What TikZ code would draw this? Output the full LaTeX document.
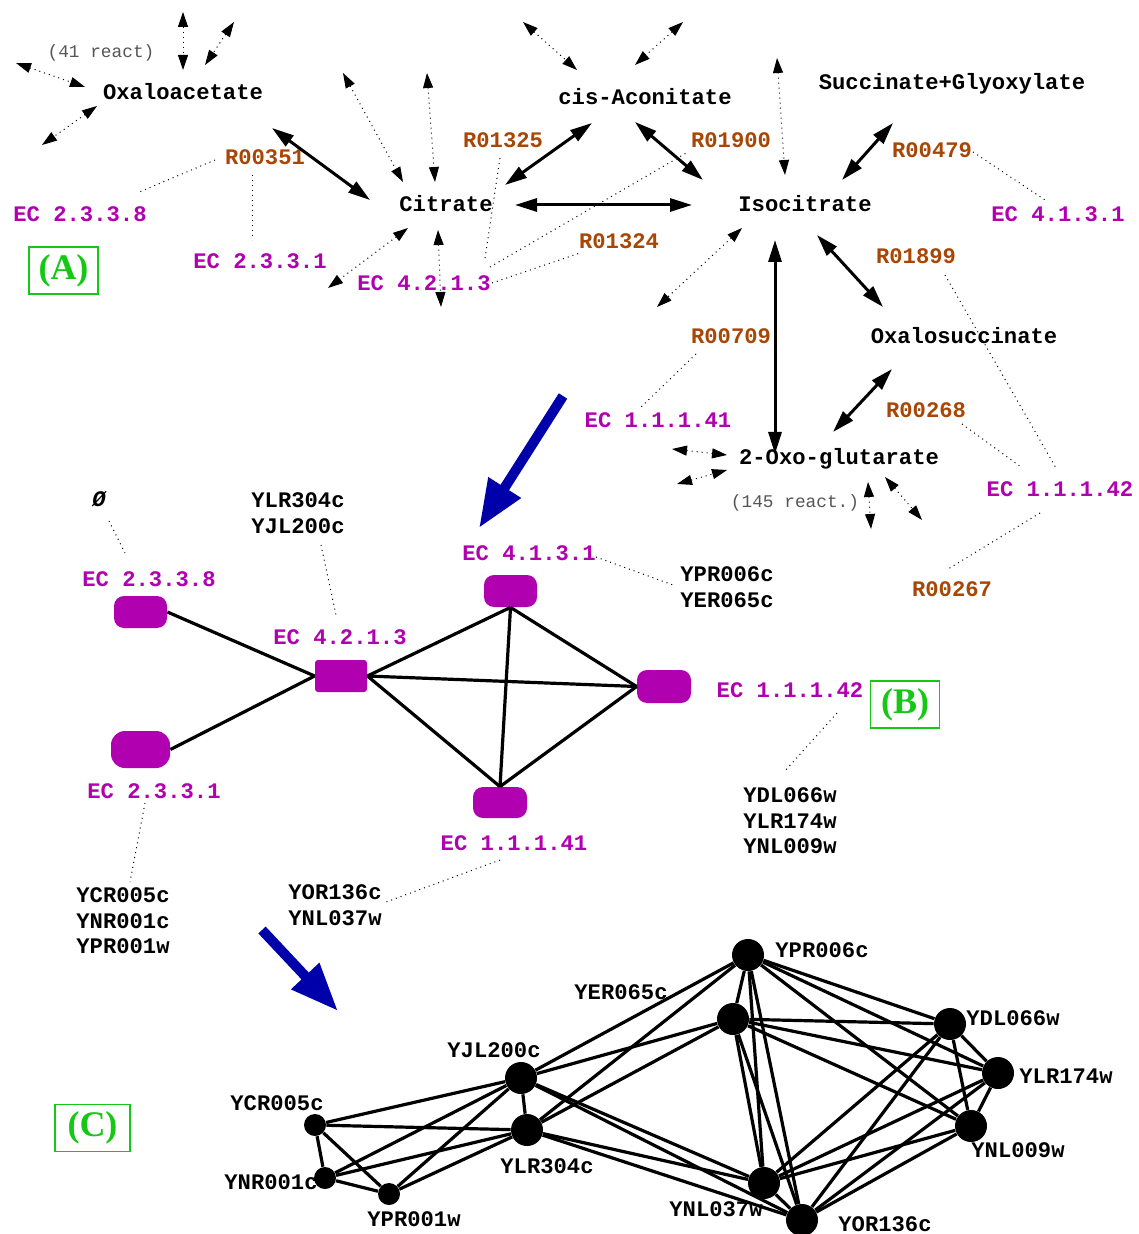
\documentclass[tikz,border=0pt]{standalone}
\usepackage{fontspec}
\setmainfont{Liberation Serif}
\setmonofont{Liberation Mono}
\usetikzlibrary{arrows.meta}
\definecolor{ecmag}{RGB}{176,0,176}
\definecolor{rxbrown}{RGB}{168,70,5}
\definecolor{panelgreen}{RGB}{20,200,20}
\definecolor{flowblue}{RGB}{0,0,170}
\definecolor{notegray}{RGB}{85,85,85}
\tikzset{
  lab/.style={font=\ttfamily\bfseries\fontsize{11.1}{12.8}\selectfont, inner sep=1.5pt},
  one/.style={lab, text height=7.4pt, text depth=0pt},
  met/.style={one},
  rx/.style={one, text=rxbrown},
  ec/.style={one, text=ecmag},
  gene/.style={one},
  genes/.style={lab, align=center},
  note/.style={font=\ttfamily\fontsize{8.9}{10}\selectfont, text=notegray,
    text height=6pt, text depth=0pt, inner sep=1pt},
  panel/.style={draw=panelgreen, text=panelgreen, line width=0.6pt,
    font=\bfseries\fontsize{18}{18}\selectfont, minimum width=34.5pt,
    minimum height=23.5pt, inner sep=0pt},
  enz/.style={fill=ecmag, inner sep=0pt, rounded corners=5pt,
    minimum width=26.5pt, minimum height=16pt},
  gdot/.style={circle, fill=black, inner sep=0pt, minimum size=16pt},
  gsmall/.style={gdot, minimum size=11pt},
  rxarr/.style={line width=1.5pt,
    arrows={Triangle[length=11pt,width=6.5pt]-Triangle[length=11pt,width=6.5pt]}},
  sidearr/.style={dotted, line width=0.5pt,
    arrows={Triangle[length=7.5pt,width=5pt]-Triangle[length=7.5pt,width=5pt]}},
  dotlink/.style={dotted, line width=0.5pt},
  tie/.style={line width=1.6pt},
  flowarr/.style={draw=flowblue, line width=5pt,
    arrows={-Triangle[length=24pt,width=18pt]}},
}
\begin{document}
\begin{tikzpicture}[x=0.5pt,y=-0.5pt]
\useasboundingbox (0,0) rectangle (1138,1234);

% (A) pathway
\node[note] (react41) at (101,52) {(41 react)};
\node[met] (oxal) at (183,92) {Oxaloacetate};
\node[met] (cisa) at (645,97) {cis-Aconitate};
\node[met] (succ) at (952,82) {Succinate+Glyoxylate};
\node[rx] (r00351) at (265,157) {R00351};
\node[rx] (r01325) at (503,140) {R01325};
\node[rx] (r01900) at (731,140) {R01900};
\node[rx] (r00479) at (932,150) {R00479};
\node[met] (cit) at (446,204) {Citrate};
\node[met] (iso) at (805,204) {Isocitrate};
\node[ec] (a2338) at (80,214) {EC 2.3.3.8};
\node[ec] (a4131) at (1058,214) {EC 4.1.3.1};
\node[rx] (r01324) at (619,241) {R01324};
\node[rx] (r01899) at (916,256) {R01899};
\node[ec] (a2331) at (260,261) {EC 2.3.3.1};
\node[ec] (a4213) at (424,283) {EC 4.2.1.3};
\node[panel] (panA) at (63.5,270.5) {(A)};
\node[rx] (r00709) at (731,336) {R00709};
\node[met] (oxs) at (964,336) {Oxalosuccinate};
\node[rx] (r00268) at (926,410) {R00268};
\node[ec] (a11141) at (658,420) {EC 1.1.1.41};
\node[met] (oxo) at (839,457) {2-Oxo-glutarate};
\node[ec] (a11142) at (1060,489) {EC 1.1.1.42};
\node[note] (react145) at (795,502) {(145 react.)};
\node[rx] (r00267) at (952,589) {R00267};

% reactions
\foreach \p/\px/\py/\q/\qx/\qy in {
  oxal/89/36/cit/-76/-4, cit/59/-19/cisa/-53/26, cisa/-10/25/iso/-102/-24,
  cit/69/1/iso/-113/1, iso/37/-24/succ/-59/41, iso/12/31/oxs/-81/-29,
  iso/-30/36/oxo/-64/-3, oxo/-6/-25/oxs/-72/33}
  \draw[rxarr] ([shift={(\px,\py)}]\p.center) -- ([shift={(\qx,\qy)}]\q.center);

% side reactions
\foreach \m/\ax/\ay/\bx/\by in {
  oxal/-167/-29/-98/-5, oxal/0/-80/0/-22, oxal/51/-70/22/-27, oxal/-86/14/-141/53,
  cit/-103/-131/-43/-22, cit/-19/-131/-11/-22, cit/-38/24/-118/84, cit/-8/26/-5/103,
  cisa/-122/-75/-68/-27, cisa/38/-75/-10/-32,
  iso/-63/24/-148/103, iso/-28/-146/-20/-29,
  oxo/-167/-8/-112/-2, oxo/-162/27/-112/13, oxo/29/25/32/72, oxo/46/20/83/63}
  \draw[sidearr] ([shift={(\ax,\ay)}]\m.center) -- ([shift={(\bx,\by)}]\m.center);

% (B) enzyme graph
\node[gene, font=\ttfamily\bfseries\itshape\fontsize{11.1}{12.8}\selectfont] (nullg) at (99,499) {Ø};
\node[genes] (g4213) at (298,513) {YLR304c\\YJL200c};
\node[ec] (b2338) at (149,579) {EC 2.3.3.8};
\node[ec] (b4131) at (529,553) {EC 4.1.3.1};
\node[genes] (g4131) at (727,587) {YPR006c\\YER065c};
\node[ec] (b4213) at (340,637) {EC 4.2.1.3};
\node[ec] (b11142) at (790,690) {EC 1.1.1.42};
\node[panel] (panB) at (905,704.5) {(B)};
\node[ec] (b2331) at (154,791) {EC 2.3.3.1};
\node[genes] (g11142) at (790,821) {YDL066w\\YLR174w\\YNL009w};
\node[ec] (b11141) at (514,843) {EC 1.1.1.41};
\node[genes] (g11141) at (335,905) {YOR136c\\YNL037w};
\node[genes] (g2331) at (123,921) {YCR005c\\YNR001c\\YPR001w};

\node[enz] (e2338) at (140.5,612) {};
\node[enz, minimum width=29.5pt, minimum height=18.5pt, rounded corners=7pt] (e2331) at (140.5,749.5) {};
\node[enz, minimum width=26pt, rounded corners=1.5pt] (e4213) at (341,676) {};
\node[enz] (e4131) at (510.5,591) {};
\node[enz, minimum width=27pt, minimum height=16.5pt] (e11142) at (664,686.5) {};
\node[enz, minimum width=27pt, minimum height=15.5pt] (e11141) at (500,802.5) {};

\foreach \a/\b in {e2338.east/e4213.west, e2331.east/e4213.west,
  e4213.east/e4131.south, e4213.east/e11142.west, e4213.east/e11141.north,
  e4131.south/e11142.west, e4131.south/e11141.north, e11141.north/e11142.west}
  \draw[tie] (\a) -- (\b);

% dotted label links
\foreach \p/\px/\py/\q/\qx/\qy in {
  r00351/-50/3/a2338/57/-21, r00351/-13/18/a2331/-8/-21,
  a4213/61/-25/r01325/-3/18, a4213/66/-16/r01900/-43/12, a4213/68/0/r01324/-39/12,
  r00479/41/2/a4131/-13/-14, r01899/29/19/a11142/-4/-21,
  r00709/-35/18/a11141/-19/-11, r00268/36/14/a11142/-39/-22,
  a11142/-20/24/r00267/-4/-20,
  nullg/10/22/b2338/-24/-26, g4213/23/32/b4213/-4/-22,
  b4131/67/4/g4131/-54/-2, b11142/47/23/g11142/-6/-49,
  b2331/-9/12/g2331/7/-39, b11141/-14/17/g11141/51/-3}
  \draw[dotlink] ([shift={(\px,\py)}]\p.center) -- ([shift={(\qx,\qy)}]\q.center);

% (C) gene graph
\node[panel, minimum width=37.5pt] (panC) at (92.5,1128) {(C)};
\foreach \n/\x/\y in {YPR006c/748/955, YER065c/733/1019, YDL066w/950/1024,
  YLR174w/998/1073, YNL009w/971/1126, YNL037w/764/1183, YOR136c/802/1220,
  YJL200c/521/1078, YLR304c/527/1130}
  \node[gdot] (\n) at (\x,\y) {};
\foreach \n/\x/\y in {YCR005c/315/1125, YNR001c/325/1178, YPR001w/389/1194}
  \node[gsmall] (\n) at (\x,\y) {};
\foreach \n/\x/\y in {YPR006c/822/950, YER065c/621/992, YDL066w/1013/1018,
  YLR174w/1066/1076, YNL009w/1018/1150, YNL037w/716/1209, YOR136c/885/1224,
  YJL200c/494/1050, YLR304c/547/1166, YCR005c/277/1103, YNR001c/271/1182,
  YPR001w/414/1219}
  \node[gene] (l\n) at (\x,\y) {\n};

\foreach \a/\b in {YCR005c/YNR001c, YCR005c/YPR001w, YNR001c/YPR001w,
  YCR005c/YJL200c, YCR005c/YLR304c, YNR001c/YJL200c, YNR001c/YLR304c,
  YPR001w/YJL200c, YPR001w/YLR304c, YJL200c/YLR304c,
  YJL200c/YPR006c, YJL200c/YER065c, YJL200c/YNL037w, YJL200c/YOR136c,
  YLR304c/YPR006c, YLR304c/YER065c, YLR304c/YNL037w, YLR304c/YOR136c,
  YPR006c/YER065c, YPR006c/YDL066w, YPR006c/YLR174w, YPR006c/YNL009w,
  YPR006c/YNL037w, YPR006c/YOR136c, YER065c/YDL066w, YER065c/YLR174w,
  YER065c/YNL009w, YER065c/YNL037w, YER065c/YOR136c, YDL066w/YLR174w,
  YDL066w/YNL009w, YDL066w/YNL037w, YDL066w/YOR136c, YLR174w/YNL009w,
  YLR174w/YNL037w, YLR174w/YOR136c, YNL009w/YNL037w, YNL009w/YOR136c,
  YNL037w/YOR136c}
  \draw[tie] (\a) -- (\b);

% step arrows
\coordinate (flowAB) at (563,396);
\coordinate (tipAB) at (479,528);
\coordinate (flowBC) at (262,930);
\coordinate (tipBC) at (338,1011);
\draw[flowarr] (flowAB) -- (tipAB);
\draw[flowarr] (flowBC) -- (tipBC);
\end{tikzpicture}
\end{document}
